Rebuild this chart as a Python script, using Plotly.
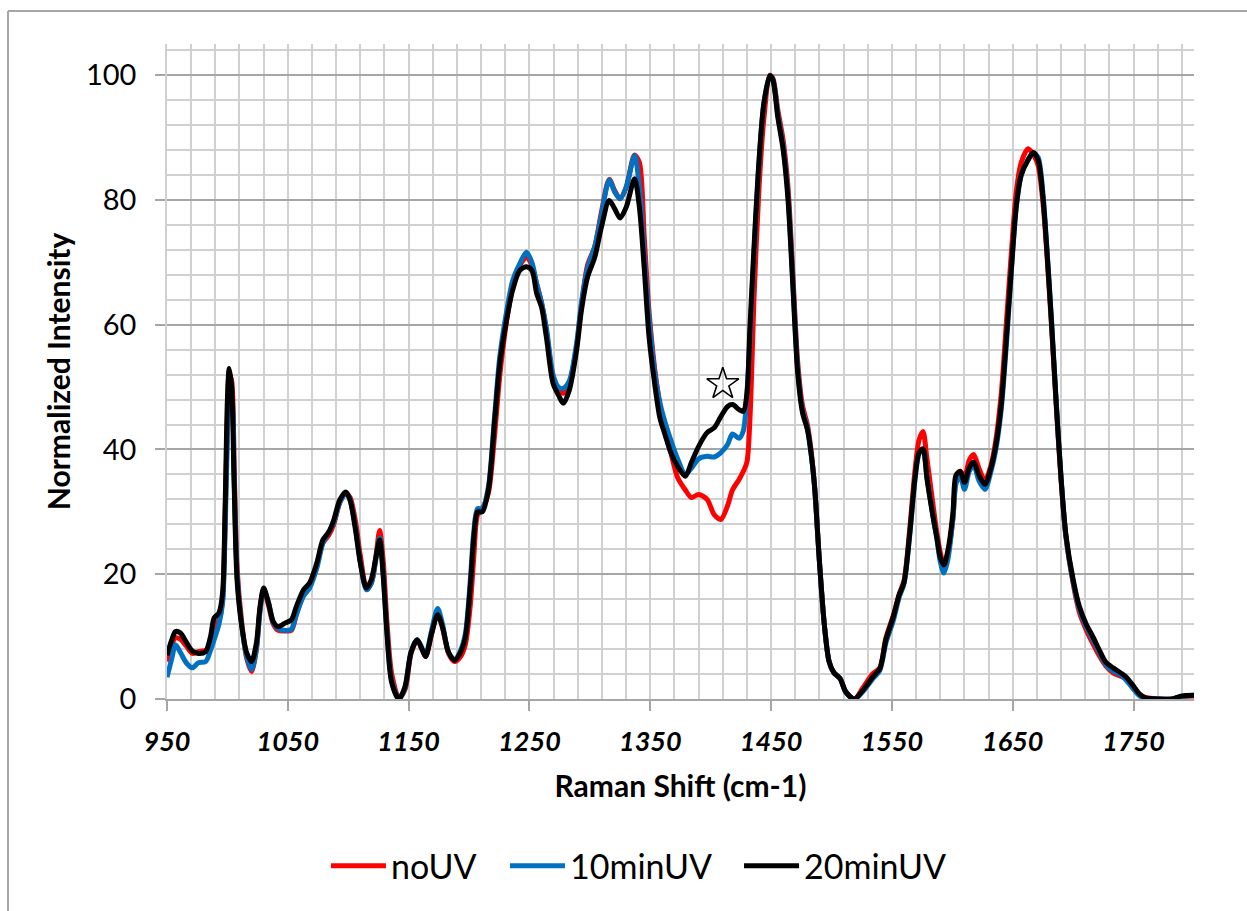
import plotly.graph_objects as go

# Raman shift positions (cm-1) shared by the three spectra
raman_shift = [
    950, 954, 957, 961, 966, 971, 976, 982, 986, 989, 993, 996, 998, 1000, 1001.5, 1003.5, 1005.5, 1008,
    1012, 1016, 1020, 1024, 1027, 1030, 1034, 1038, 1042, 1048, 1053, 1057, 1063, 1068, 1074, 1079,
    1084, 1088, 1093, 1098, 1101.5, 1106, 1110, 1115, 1119, 1123, 1126, 1129, 1132, 1136, 1142, 1147,
    1152, 1157, 1161, 1164, 1169, 1174, 1178, 1183, 1188, 1193, 1197, 1201, 1204, 1207, 1211, 1216,
    1221, 1225.5, 1231, 1236, 1242, 1247.5, 1252, 1256, 1260, 1264, 1269.5, 1274, 1278, 1283, 1289,
    1293, 1298, 1304, 1309.5, 1316, 1320.5, 1325, 1330, 1337, 1341, 1345, 1349, 1353.6, 1358, 1362,
    1367, 1372.6, 1379, 1384, 1390, 1397, 1403, 1408.5, 1414, 1418, 1423.5, 1427, 1430, 1432.5, 1436,
    1440, 1444, 1449, 1451.5, 1455.5, 1460, 1464, 1468, 1472, 1476, 1480, 1483, 1486, 1490, 1494,
    1498, 1502, 1507, 1512, 1519, 1526, 1534, 1540, 1545, 1551, 1556, 1560, 1564.6, 1569, 1572.4,
    1575.7, 1579, 1583.4, 1587.3, 1590, 1593, 1596.4, 1600.5, 1603, 1606.6, 1610, 1614, 1617.6, 1622,
    1627, 1632, 1636, 1640.5, 1644.6, 1649, 1653, 1657, 1662.6, 1667, 1671, 1675, 1678, 1682, 1686,
    1690, 1694, 1700, 1705, 1711, 1716, 1722, 1727, 1733, 1740, 1744, 1749, 1755, 1760, 1771, 1782,
    1790, 1800,
]

# Normalized intensity, no UV exposure
no_uv = [
    6.0, 8.8, 9.8, 9.6, 8.5, 7.3, 7.6, 7.8, 9.0, 11.5, 12.7, 16.0, 28.0, 45.0, 52.0, 51.0, 38.0, 21.0,
    12.0, 6.5, 4.4, 8.0, 14.5, 17.5, 15.0, 12.0, 11.0, 10.9, 11.0, 13.5, 16.8, 18.0, 21.5, 25.0,
    26.3, 28.0, 31.5, 33.0, 32.3, 28.5, 23.0, 18.2, 18.6, 23.0, 27.0, 22.0, 12.5, 4.0, 0.2, 1.5,
    7.3, 9.4, 8.0, 6.8, 10.4, 13.8, 11.5, 7.3, 6.0, 6.8, 8.8, 15.0, 23.0, 29.5, 30.5, 33.0,
    42.0, 52.0, 60.5, 66.0, 69.5, 70.8, 69.5, 66.5, 63.5, 59.0, 51.5, 49.5, 49.0, 50.5, 56.5,
    63.0, 69.5, 72.5, 78.0, 83.3, 81.5, 80.2, 82.0, 87.2, 86.0, 74.0, 62.0, 53.0, 47.0, 43.0,
    39.5, 35.5, 33.5, 32.3, 32.8, 32.0, 29.5, 28.8, 31.0, 33.5, 35.2, 36.5, 38.0, 45.0, 65.0,
    82.0, 93.0, 100.0, 99.5, 94.5, 89.5, 82.0, 68.0, 54.0, 47.0, 44.0, 40.0, 34.0, 22.0, 12.0,
    6.0, 4.2, 3.3, 1.1, 0.0, 1.8, 4.0, 5.0, 9.8, 13.3, 16.8, 19.0, 27.0, 36.5, 41.5,
    42.9, 38.5, 32.0, 26.5, 23.5, 21.5, 23.5, 29.0, 35.0, 36.5, 35.5, 38.3, 39.2, 37.0,
    35.0, 37.5, 41.5, 49.0, 60.0, 72.0, 81.5, 86.0, 88.2, 87.3, 85.5, 79.5, 72.0, 60.0, 47.0,
    35.0, 26.0, 18.5, 14.0, 11.0, 9.0, 6.8, 5.3, 4.2, 3.6, 3.2, 2.2, 0.7, 0.2, 0.0, 0.0,
    0.4, 0.5,
]

# Normalized intensity after 10 min UV
uv_10min = [
    3.5, 6.5, 8.7, 7.5, 5.8, 5.0, 5.8, 6.0, 7.8, 9.5, 12.0, 15.4, 26.0, 42.0, 49.0, 48.5, 36.0, 20.0,
    11.5, 6.8, 4.7, 8.0, 14.0, 17.5, 15.5, 12.2, 11.3, 11.0, 11.2, 13.5, 16.5, 17.8, 21.0, 25.0,
    26.8, 28.3, 31.5, 33.0, 31.9, 27.5, 22.0, 17.5, 18.5, 22.5, 25.8, 20.0, 11.0, 3.0, 0.0, 1.8,
    7.6, 9.5, 8.2, 7.0, 11.0, 14.5, 12.0, 7.5, 6.3, 7.8, 10.5, 19.0, 27.0, 30.5, 30.5, 34.0,
    45.0, 55.0, 62.0, 67.0, 69.8, 71.6, 70.0, 66.5, 63.5, 59.5, 52.0, 50.0, 49.8, 51.0, 57.0,
    63.5, 69.0, 72.5, 77.5, 83.2, 81.3, 80.2, 82.0, 87.1, 82.0, 71.0, 61.0, 52.5, 47.5, 44.5,
    41.5, 38.5, 36.0, 37.0, 38.5, 38.9, 38.8, 39.5, 40.8, 42.5, 41.8, 43.0, 49.0, 58.0, 72.0,
    86.0, 95.5, 99.9, 99.3, 93.8, 88.5, 80.8, 67.0, 53.0, 46.3, 43.5, 39.5, 34.0, 22.0, 12.0,
    6.0, 4.2, 3.3, 1.0, 0.0, 1.2, 3.2, 4.6, 9.0, 12.5, 16.3, 18.5, 26.0, 35.0, 39.3,
    40.0, 35.5, 30.0, 25.5, 22.0, 20.2, 22.5, 29.0, 34.5, 35.8, 33.6, 36.5, 37.5, 35.0,
    33.6, 36.5, 40.0, 46.5, 56.5, 69.0, 79.0, 84.0, 86.4, 87.5, 86.8, 81.0, 73.0, 61.0, 47.5,
    35.5, 26.0, 18.8, 14.5, 11.5, 9.6, 7.3, 5.5, 4.5, 3.8, 3.0, 1.8, 0.5, 0.1, 0.0, 0.0,
    0.4, 0.6,
]

# Normalized intensity after 20 min UV
uv_20min = [
    7.0, 9.5, 10.8, 10.6, 9.1, 7.7, 7.3, 7.6, 10.0, 13.0, 13.8, 17.0, 30.0, 48.0, 53.0, 50.0, 35.0, 19.0,
    11.5, 7.4, 6.0, 9.0, 14.8, 17.8, 15.4, 12.4, 11.6, 12.2, 12.7, 14.8, 17.5, 18.6, 21.8, 25.5,
    26.8, 28.7, 31.9, 33.2, 31.9, 27.1, 21.8, 17.8, 19.1, 22.8, 25.5, 19.6, 10.6, 2.6, 0.0, 2.0,
    7.5, 9.5, 8.0, 6.8, 10.5, 13.5, 11.5, 7.5, 6.2, 7.5, 10.0, 18.0, 26.0, 30.0, 30.0, 33.5,
    44.2, 53.8, 60.7, 65.5, 68.7, 69.3, 68.7, 65.0, 62.8, 58.0, 50.6, 48.7, 47.4, 49.5, 55.9,
    62.3, 67.6, 70.8, 75.6, 79.9, 78.6, 77.1, 78.8, 83.4, 78.8, 69.0, 58.0, 50.6, 45.0, 42.5,
    39.5, 37.3, 35.7, 37.9, 40.5, 42.7, 43.5, 45.3, 46.9, 47.2, 46.4, 46.1, 49.0, 59.7, 73.0,
    86.4, 95.5, 99.9, 99.2, 93.3, 88.0, 80.0, 66.1, 52.3, 45.9, 43.2, 39.5, 34.0, 22.0, 12.0,
    6.0, 4.2, 3.3, 1.1, 0.0, 1.4, 3.5, 4.9, 9.5, 13.1, 16.7, 18.7, 26.3, 35.3, 39.5,
    40.1, 35.3, 29.9, 25.7, 22.7, 21.5, 23.9, 29.9, 35.9, 36.5, 34.7, 37.1, 38.0, 35.9,
    34.4, 37.1, 40.7, 47.3, 57.5, 69.5, 79.2, 84.0, 86.4, 87.6, 86.4, 80.4, 72.6, 60.5, 47.3,
    35.3, 26.3, 19.1, 14.9, 11.9, 10.1, 7.7, 5.9, 5.0, 4.1, 3.5, 2.3, 0.8, 0.2, 0.0, 0.0,
    0.5, 0.6,
]

series_names = ["noUV", "10minUV", "20minUV"]
series_colors = ["#FF0000", "#0070C0", "#000000"]

# Star marking the band that grows with UV exposure
star_shift = [1410]
star_intensity = [50.5]

x_ticks = [950, 1050, 1150, 1250, 1350, 1450, 1550, 1650, 1750]
y_ticks = [0, 20, 40, 60, 80, 100]

FONT = "Lato, 'Open Sans', sans-serif"

# one legend per series so each entry sits at its own spot along the bottom row
legend_ids = ["legend", "legend2", "legend3"]
legend_left = [0.1548, 0.3291, 0.5570]

fig = go.Figure()
for name, color, values, lid in zip(series_names, series_colors, [no_uv, uv_10min, uv_20min], legend_ids):
    fig.add_trace(go.Scatter(
        x=raman_shift, y=values, name=name, mode="lines", legend=lid,
        line=dict(color=color, width=5, shape="spline", smoothing=0.8),
    ))

fig.add_trace(go.Scatter(
    x=star_shift, y=star_intensity, mode="markers", showlegend=False, hoverinfo="skip",
    marker=dict(symbol="star-open", size=24, color="#000000", line=dict(width=1.6, color="#000000")),
))

light = "#d0d0d0"
dark = "#a6a6a6"

legend_style = dict(
    orientation="h", xanchor="left", y=-0.255, yanchor="middle",
    font=dict(size=34, family=FONT), bgcolor="rgba(0,0,0,0)", itemwidth=55,
)

fig.update_layout(
    width=1247, height=911,
    margin=dict(l=167, r=53, t=44, b=212),
    paper_bgcolor="#ffffff", plot_bgcolor="#ffffff",
    font=dict(family=FONT, color="#000000"),
    showlegend=True,
    legend=dict(x=legend_left[0], **legend_style),
    legend2=dict(x=legend_left[1], **legend_style),
    legend3=dict(x=legend_left[2], **legend_style),
    xaxis=dict(
        range=[950, 1800], tickmode="array", tickvals=x_ticks, ticktext=[str(v) for v in x_ticks],
        ticks="outside", ticklen=10, tickwidth=1.5, tickcolor=dark,
        tickfont=dict(size=27, family=FONT, weight="bold", style="italic"),
        ticklabelstandoff=8,
        showgrid=True, gridcolor=light, gridwidth=1.5,
        minor=dict(dtick=20, tick0=950, showgrid=True, gridcolor=light, gridwidth=1.5, ticks=""),
        showline=True, linecolor=dark, linewidth=1.5,
        zeroline=False,
        title=dict(text="Raman Shift (cm-1)", font=dict(size=30, family=FONT, weight="bold"), standoff=20),
    ),
    yaxis=dict(
        range=[0, 105], tickmode="array", tickvals=y_ticks,
        ticks="outside", ticklen=10, tickwidth=1.5, tickcolor=dark,
        tickfont=dict(size=29, family=FONT), ticklabelstandoff=13,
        showgrid=True, gridcolor=dark, gridwidth=1.5,
        minor=dict(dtick=4, tick0=0, showgrid=True, gridcolor=light, gridwidth=1.5, ticks=""),
        showline=True, linecolor=light, linewidth=1.5,
        zeroline=False,
        title=dict(text="Normalized Intensity", font=dict(size=30, family=FONT, weight="bold"), standoff=6),
    ),
    shapes=[
        dict(type="line", xref="paper", yref="paper", x0=-0.1548, x1=-0.1548, y0=1.0504, y1=-0.35,
             line=dict(color=dark, width=2)),
        dict(type="line", xref="paper", yref="paper", x0=-0.1548, x1=1.1, y0=1.0504, y1=1.0504,
             line=dict(color=dark, width=2)),
    ],
)

fig.write_html("out.html")
